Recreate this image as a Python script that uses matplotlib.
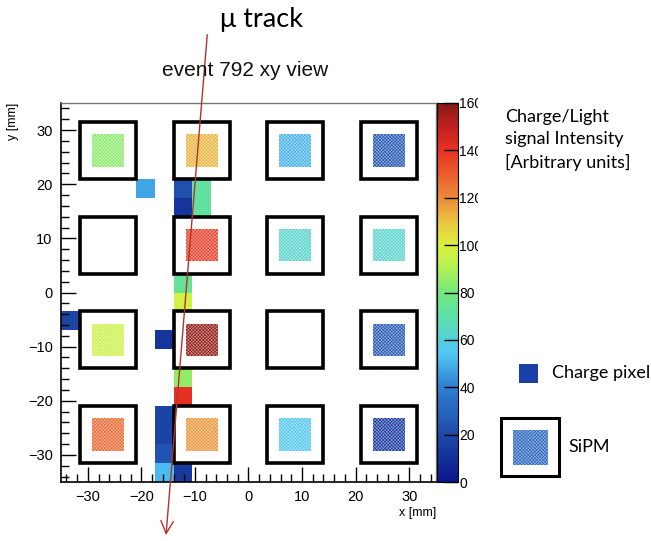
import numpy as np
import matplotlib
matplotlib.use("Agg")
from matplotlib import pyplot as plt
from matplotlib.colors import LinearSegmentedColormap
from matplotlib.patches import Rectangle
from matplotlib.ticker import MultipleLocator
from matplotlib.transforms import Bbox, TransformedBbox

# charge pixels fired in the event: pixel centre (mm) and charge
pix_x = [-19.25, -12.25, -12.25, -8.75, -8.75, -12.25, -12.25, -33.25,
         -15.75, -12.25, -12.25, -15.75, -15.75, -15.75, -15.75, -12.25]
pix_y = [19.25, 19.25, 15.75, 19.25, 15.75, 1.75, -1.75, -5.25,
         -8.75, -15.75, -19.25, -22.75, -26.25, -29.75, -33.25, -33.25]
pix_q = [48, 22, 12, 72, 72, 74, 97, 18, 12, 85, 140, 18, 18, 24, 52, 14]

# SiPM tile centres (same in x and y) and light seen, rows from bottom to top
sipm_pos = [-26.25, -8.75, 8.75, 26.25]
sipm_light = [
    [128, 118, 55, 14],
    [96, 158, np.nan, 26],
    [np.nan, 137, 63, 63],
    [84, 113, 50, 25],
]

cbar_ticks = [0, 20, 40, 60, 80, 100, 120, 140, 160]

pitch = 3.5
edges = np.arange(-35, 35.01, pitch)
qmap = np.full((len(edges) - 1, len(edges) - 1), np.nan)
for x, y, q in zip(pix_x, pix_y, pix_q):
    ix = int(np.floor((x + 35) / pitch))
    iy = int(np.floor((y + 35) / pitch))
    qmap[iy, ix] = q

# rainbow palette like the ROOT one
palette = LinearSegmentedColormap.from_list("rainbow_root", [
    (0.00, "#0a168a"), (0.125, "#1e4aa8"), (0.25, "#2f80d2"),
    (0.34, "#50c6f4"), (0.44, "#5ee0a6"), (0.50, "#72e87c"),
    (0.58, "#bff24c"), (0.625, "#dcf040"), (0.69, "#e8c440"),
    (0.75, "#ec8a38"), (0.875, "#e83222"), (0.94, "#c02020"),
    (1.00, "#861a12")])

fig = plt.figure(figsize=(6.51, 5.41), dpi=100)
ax = fig.add_axes([61 / 651, 1 - 482 / 541, 375 / 651, 379 / 541])
cax = fig.add_axes([437 / 651, 1 - 482 / 541, 21 / 651, 379 / 541])

mesh = ax.pcolormesh(edges, edges, np.ma.masked_invalid(qmap), cmap=palette,
                     vmin=0, vmax=160, zorder=1)

plt.rcParams["hatch.linewidth"] = 0.45
for j, cy in enumerate(sipm_pos):
    for i, cx in enumerate(sipm_pos):
        ax.add_patch(Rectangle((cx - 5.25, cy - 5.25), 10.5, 10.5, fc="white",
                               ec="black", lw=2.6, zorder=2))
        val = sipm_light[j][i]
        if np.isnan(val):
            continue
        col = np.array(palette(val / 160)[:3])
        light = col * 0.5 + 0.5
        ax.add_patch(Rectangle((cx - 3, cy - 3), 6, 6, fc=light, ec=col,
                               hatch="xxxxxxxxxx", lw=0, zorder=3))

ax.set_xlim(-35, 35)
ax.set_ylim(-35, 35)
ax.xaxis.set_major_locator(MultipleLocator(10))
ax.xaxis.set_minor_locator(MultipleLocator(2))
ax.yaxis.set_major_locator(MultipleLocator(10))
ax.yaxis.set_minor_locator(MultipleLocator(2))
ax.tick_params(which="both", direction="in", top=False, right=False,
               width=1, color="black")
ax.tick_params(which="major", length=11, labelsize=10.5, pad=6)
ax.tick_params(which="minor", length=6)
for lab in ax.get_xticklabels() + ax.get_yticklabels():
    lab.set_family("Liberation Sans")
for side in ["left", "bottom"]:
    ax.spines[side].set_linewidth(1.2)
for side in ["top", "right"]:
    ax.spines[side].set_color("#777777")
    ax.spines[side].set_linewidth(1)

ax.set_xlabel("x [mm]", fontsize=9, family="Liberation Sans", ha="right",
              x=1.0, labelpad=2)
ax.set_ylabel("y [mm]", fontsize=9, family="Liberation Sans", ha="right",
              y=1.0, labelpad=6)

cb = fig.colorbar(mesh, cax=cax, ticks=cbar_ticks)
cb.outline.set_linewidth(0.8)
cax.tick_params(direction="in", length=10, width=1, labelsize=10, pad=1,
                color="black")
# palette labels are cut short on the right
clip = TransformedBbox(Bbox([[0, 0], [478 / 651, 1]]), fig.transFigure)
for lab in cax.get_yticklabels():
    lab.set_family("Liberation Sans")
    lab.set_clip_box(clip)
    lab.set_clip_on(True)

fig.text(261 / 651, 1 - 20 / 541, "μ track", fontsize=19.5, family="Lato",
         ha="center", va="center")
fig.text(245 / 651, 1 - 71 / 541, "event 792 xy view", fontsize=15,
         family="Liberation Sans", ha="center", va="center", color="#111111")

# muon track through the detector
ax.annotate("", xy=(-15.4, -44.8), xytext=(-7.7, 47.6),
            arrowprops=dict(arrowstyle="->,head_length=0.9,head_width=0.45",
                            color="#b5312c", lw=1, shrinkA=0, shrinkB=0),
            annotation_clip=False, zorder=10)

fig.text(505 / 651, 1 - 140 / 541,
         "Charge/Light\nsignal Intensity\n[Arbitrary units]", fontsize=13,
         family="Lato", ha="left", va="center", linespacing=1.5)

# legend entries
fig.patches.append(Rectangle((519 / 651, 1 - 383 / 541), 19 / 651, 19 / 541,
                             transform=fig.transFigure, fc="#1a3fa8", ec="none"))
fig.text(552 / 651, 1 - 373 / 541, "Charge pixel", fontsize=13, family="Lato",
         ha="left", va="center")
fig.patches.append(Rectangle((501 / 651, 1 - 476 / 541), 58 / 651, 58 / 541,
                             transform=fig.transFigure, fc="white", ec="black",
                             lw=2.2))
leg_col = np.array(palette(30 / 160)[:3])
fig.patches.append(Rectangle((513 / 651, 1 - 465 / 541), 35 / 651, 35 / 541,
                             transform=fig.transFigure, fc=leg_col * 0.5 + 0.5,
                             ec=leg_col, hatch="xxxxxxxxxx", lw=0))
fig.text(568 / 651, 1 - 447 / 541, "SiPM", fontsize=13, family="Lato",
         ha="left", va="center")

fig.savefig("out.png", dpi=100)
